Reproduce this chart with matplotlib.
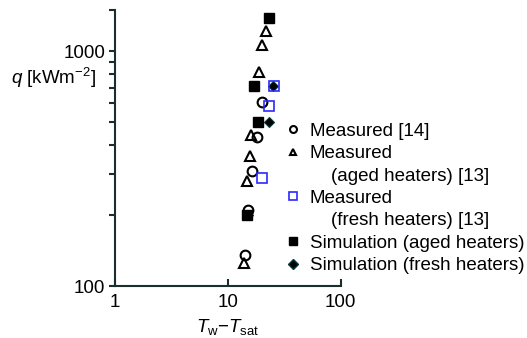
import matplotlib
matplotlib.use("Agg")
import matplotlib.pyplot as plt
from matplotlib.lines import Line2D
from matplotlib.ticker import FixedLocator, NullFormatter

plt.rcParams['font.family'] = ['Liberation Sans', 'DejaVu Sans']
plt.rcParams['mathtext.fontset'] = 'custom'
plt.rcParams['mathtext.rm'] = 'Liberation Sans'
plt.rcParams['mathtext.it'] = 'Liberation Sans:italic'

# Measured [14]
meas14_dT = [20.2, 18.0, 16.3, 15.2, 14.2]
meas14_q = [606, 431, 310, 211, 136]
# Measured (aged heaters) [13]
aged_dT = [21.8, 20.2, 18.9, 15.9, 15.7, 14.9, 13.9]
aged_q = [1225, 1062, 818, 441, 357, 279, 125]
# Measured (fresh heaters) [13]
fresh_dT = [25.6, 23.3, 20.0]
fresh_q = [710, 586, 288]
# Simulation (aged heaters)
sim_aged_dT = [23.3, 17.2, 18.6, 14.7]
sim_aged_q = [1390, 710, 502, 201]
# Simulation (fresh heaters)
sim_fresh_dT = [25.3, 23.2, 15.1]
sim_fresh_q = [710, 502, 201]

x_ticks = [1, 10, 100]
x_ticklabels = ['1', '10', '100']
y_ticks = [100, 1000]
y_ticklabels = ['100', '1000']

FS = 13.5

fig = plt.figure(figsize=(5.27, 3.38), dpi=100)
ax = fig.add_axes([0.2182, 0.1538, 0.6465 - 0.2182, 0.9704 - 0.1538])
ax.set_xscale('log')
ax.set_yscale('log')
ax.set_xlim(1, 100)
ax.set_ylim(100, 1500)

ms = 7
ax.plot(sim_fresh_dT, sim_fresh_q, linestyle='none', marker='D', ms=5.5,
        mfc='black', mec='#0a3a3a', mew=0.8, zorder=3)
ax.plot(sim_aged_dT, sim_aged_q, linestyle='none', marker='s', ms=ms,
        mfc='black', mec='black', mew=1, zorder=4)
ax.plot(meas14_dT, meas14_q, linestyle='none', marker='o', ms=ms,
        mfc='none', mec='black', mew=1.5, zorder=5)
ax.plot(aged_dT, aged_q, linestyle='none', marker='^', ms=ms,
        mfc='none', mec='black', mew=1.5, zorder=5)
ax.plot(fresh_dT, fresh_q, linestyle='none', marker='s', ms=ms,
        mfc='none', mec='#2a2aff', mew=1.2, zorder=5)

for s in ['top', 'right']:
    ax.spines[s].set_visible(False)
for s in ['left', 'bottom']:
    ax.spines[s].set_linewidth(1.5)
    ax.spines[s].set_color('#1a2e2e')

ax.xaxis.set_major_locator(FixedLocator(x_ticks))
ax.set_xticklabels(x_ticklabels)
ax.xaxis.set_minor_locator(FixedLocator([]))
ax.tick_params(axis='x', which='major', direction='in', length=5, width=1.5,
               color='#1a2e2e', labelsize=FS, pad=6)

ax.yaxis.set_major_locator(FixedLocator(y_ticks))
ax.set_yticklabels(y_ticklabels)
ax.yaxis.set_minor_locator(FixedLocator([200, 300, 400, 500, 600, 700, 800, 900, 1500]))
ax.yaxis.set_minor_formatter(NullFormatter())
ax.tick_params(axis='y', which='both', direction='out', length=4, width=1.5,
               color='#1a2e2e', labelsize=FS, pad=3)

ax.set_xlabel(r'$T_{\mathregular{w}}$$-$$T_{\mathregular{sat}}$', fontsize=FS, labelpad=4)
ax.set_ylabel(r'$q$ [kWm$^{\mathregular{-2}}$]', fontsize=FS, rotation=0,
              ha='right', va='center')
ax.yaxis.set_label_coords(-0.085, 0.754)

handles = [
    Line2D([], [], linestyle='none', marker='o', ms=5, mfc='none', mec='black', mew=1.5),
    Line2D([], [], linestyle='none', marker='^', ms=5, mfc='none', mec='black', mew=1.5),
    Line2D([], [], linestyle='none', marker=None),
    Line2D([], [], linestyle='none', marker='s', ms=6, mfc='none', mec='#2a2aff', mew=1.2),
    Line2D([], [], linestyle='none', marker=None),
    Line2D([], [], linestyle='none', marker='s', ms=6, mfc='black', mec='black'),
    Line2D([], [], linestyle='none', marker='D', ms=5, mfc='black', mec='#0a3a3a'),
]
labels = ['Measured [14]', 'Measured', '    (aged heaters) [13]', 'Measured',
          '    (fresh heaters) [13]', 'Simulation (aged heaters)',
          'Simulation (fresh heaters)']
fig.legend(handles, labels, loc='upper left', bbox_to_anchor=(0.538, 0.637),
           frameon=False, fontsize=FS, handlelength=1.0, handletextpad=0.4,
           labelspacing=0.28, borderpad=0, borderaxespad=0)

fig.savefig('out.png', dpi=100)
